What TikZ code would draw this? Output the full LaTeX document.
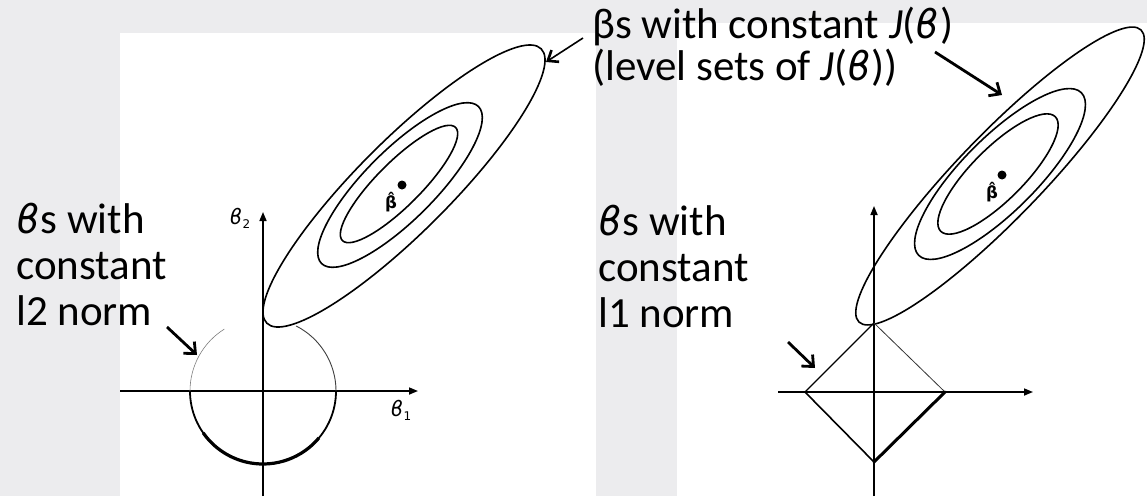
\documentclass[tikz,border=0pt]{standalone}
\usepackage{fontspec}
\setmainfont{Carlito}
\newfontfamily\symf[Scale=0.92]{DejaVu Sans}
\usetikzlibrary{arrows.meta}
\definecolor{bggrey}{RGB}{236,236,238}
\begin{document}
\begin{tikzpicture}[x=1pt,y=-1pt,
  axis/.style={line width=1.6pt,-{Triangle[length=9pt,width=7pt]}},
  curve/.style={line width=1.6pt},
  pointer/.style={line width=2.8pt,-{Straight Barb[length=9pt,width=16pt,line width=2.8pt]}},
  thinpointer/.style={line width=1.6pt,-{Straight Barb[length=9pt,width=14pt,line width=2.6pt]}},
  txt/.style={font=\fontsize{43}{50}\selectfont,anchor=base west,inner sep=0pt},
  axlabel/.style={font=\symf\itshape\fontsize{23}{23}\selectfont,inner sep=0pt},
  hatlabel/.style={font=\symf\bfseries\fontsize{18}{18}\selectfont,inner sep=0pt}
]
\useasboundingbox (0,0) rectangle (1147,496);
\fill[bggrey] (0,0) rectangle (1147,496);
\fill[white] (120,33) rectangle (596,496);
\fill[white] (677,23) rectangle (1147,496);

% ---------- left plot ----------
\coordinate (O1) at (263,391);
\draw[curve] (404,186) ellipse[x radius=194,y radius=46,rotate=45];
\draw[curve] (400,185) ellipse[x radius=111,y radius=35,rotate=45];
\draw[curve] (399,184) ellipse[x radius=80,y radius=22,rotate=45];
\fill (402,185) circle[radius=4.5];
\node[hatlabel] (bh1) at (391,202) {β̂};

\draw[axis] (120,391) -- (418,391);
\draw[axis] (263,496) -- (263,212);
\draw[line width=2.6pt] (190,391) -- (336,391);
\node[axlabel] (t2) at (240,218) {ϐ\raisebox{-4pt}{\fontsize{13}{13}\selectfont\upshape 2}};
\node[axlabel] (t1) at (401,410) {ϐ\raisebox{-4pt}{\fontsize{13}{13}\selectfont\upshape 1}};

% l2 ball
\draw[line width=0.6pt,gray] ([shift={(-122:73)}]O1) arc[start angle=-122,end angle=-180,radius=73];
\draw[line width=0.9pt,black!75] ([shift={(0:73)}]O1) arc[start angle=0,end angle=-63,radius=73];
\draw[line width=1.8pt] ([shift={(0:73)}]O1) arc[start angle=0,end angle=180,radius=73];
\draw[line width=3.2pt] ([shift={(40:73)}]O1) arc[start angle=40,end angle=145,radius=73];

% ---------- right plot ----------
\coordinate (O2) at (874,392);
\draw[curve] (1000,176) ellipse[x radius=203,y radius=42,rotate=46];
\draw[curve] (1000,174) ellipse[x radius=115,y radius=37,rotate=45];
\draw[curve] (998,174) ellipse[x radius=81,y radius=26,rotate=45];
\fill (1002,175) circle[radius=4.5];
\node[hatlabel] (bh2) at (992,192) {β̂};

\draw[axis] (778,392) -- (1033,392);
\draw[axis] (874,496) -- (874,206);
\draw[line width=2.6pt] (805,392) -- (945,392);
\coordinate (dT) at (874,323);
\coordinate (dL) at (805,392);
\coordinate (dR) at (945,392);
\coordinate (dB) at (874,462);
\draw[line width=1.2pt] (dL) -- (dT);
\draw[line width=0.8pt,black!80] (dT) -- (dR);
\draw[line width=1.6pt] (dL) -- (dB);
\draw[line width=3pt,line cap=round] (dB) -- (dR);

% ---------- texts ----------
\node[txt] (l2a) at (16,233) {{\symf\itshape ϐ}s with};
\node[txt] (l2b) at (16,279) {constant};
\node[txt] (l2c) at (16,325) {l2 norm};
\node[txt] (l1a) at (598,235) {{\symf\itshape ϐ}s with};
\node[txt] (l1b) at (598,281) {constant};
\node[txt] (l1c) at (598,327) {l1 norm};
\node[txt] (ja) at (592,38) {βs with constant \textit{J}({\symf\itshape ϐ})};
\node[txt] (jb) at (592,80) {(level sets of \textit{J}({\symf\itshape ϐ}))};

% ---------- pointers ----------
\coordinate (p1s) at (167,327);
\coordinate (p1e) at (197,355);
\draw[pointer] (p1s) -- (p1e);
\coordinate (p2s) at (788,342);
\coordinate (p2e) at (815,368);
\draw[pointer] (p2s) -- (p2e);
\coordinate (p3s) at (583,38);
\coordinate (p3e) at (546,62);
\draw[thinpointer] (p3s) -- (p3e);
\coordinate (p4s) at (935,52);
\coordinate (p4e) at (1002,95);
\draw[pointer] (p4s) -- (p4e);
\end{tikzpicture}
\end{document}
